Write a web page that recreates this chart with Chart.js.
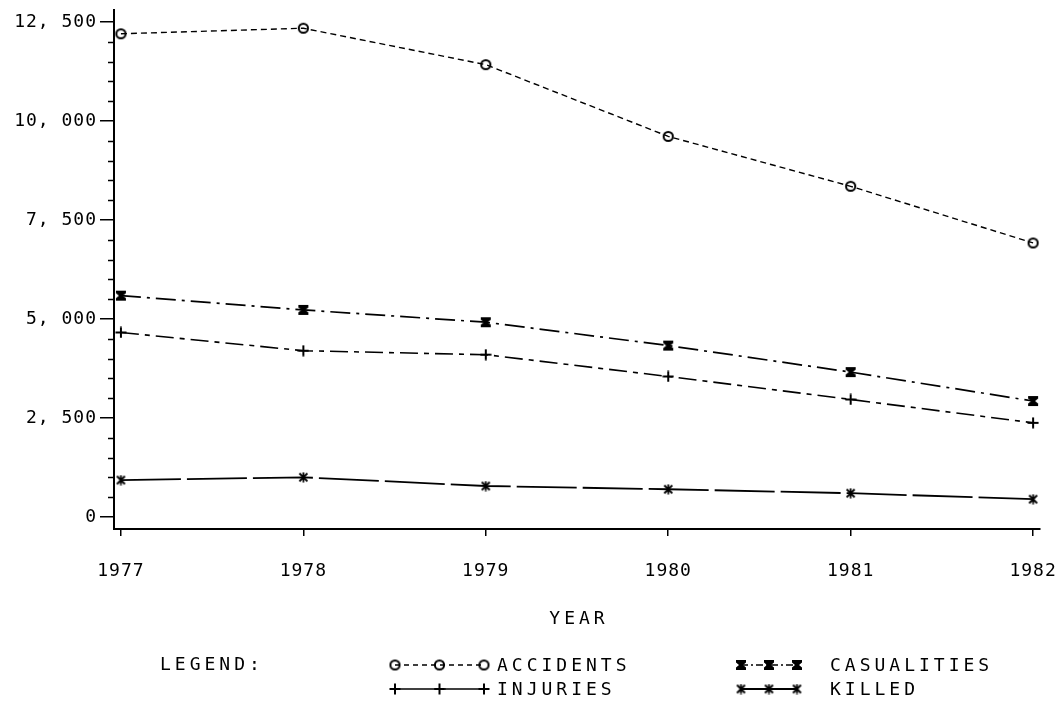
<!DOCTYPE html>
<html>
<head>
<meta charset="utf-8">
<script src="https://cdn.jsdelivr.net/npm/chart.js@4"></script>
<style>
  html, body { margin: 0; padding: 0; background: #fff; }
  #grafico-wrap { width: 1060px; height: 704px; }
</style>
</head>
<body>
<div id="grafico-wrap"><canvas id="grafico"></canvas></div>
<script>
// === DADOS DO GRAFICO ===
const anos = [1977, 1978, 1979, 1980, 1981, 1982];
const acidentes = [12200, 12340, 11420, 9610, 8350, 6920];
const vitimas = [5590, 5230, 4920, 4330, 3660, 2930];
const feridos = [4660, 4200, 4100, 3550, 2970, 2380];
const mortos = [935, 1005, 785, 703, 603, 452];

const ticksY = [0, 2500, 5000, 7500, 10000, 12500];
const ticksYMenores = [500, 1000, 1500, 2000, 3000, 3500, 4000, 4500, 5500, 6000, 6500, 7000,
    8000, 8500, 9000, 9500, 10500, 11000, 11500, 12000];
const nomesSeries = ['ACCIDENTS', 'CASUALITIES', 'INJURIES', 'KILLED'];
const tituloX = 'YEAR';
const tituloLegenda = 'LEGEND:';

const FONTE = '"DejaVu Sans Mono", monospace';

// --- Marcadores desenhados a mao (estilo plotter) ---
function novoCanvas(w, h) {
    const c = document.createElement('canvas');
    c.width = w; c.height = h;
    return c;
}

function marcadorCirculo() {
    const c = novoCanvas(13, 13);
    const ctx = c.getContext('2d');
    ctx.strokeStyle = '#000';
    ctx.lineWidth = 2;
    ctx.beginPath();
    ctx.arc(6.5, 6.5, 4.6, 0, Math.PI * 2);
    ctx.stroke();
    return c;
}

function marcadorAmpulheta() {
    const c = novoCanvas(12, 12);
    const ctx = c.getContext('2d');
    ctx.fillStyle = '#000';
    ctx.beginPath();
    ctx.moveTo(1, 1); ctx.lineTo(11, 1); ctx.lineTo(11, 3.5); ctx.lineTo(8, 6);
    ctx.lineTo(11, 8.5); ctx.lineTo(11, 11); ctx.lineTo(1, 11); ctx.lineTo(1, 8.5);
    ctx.lineTo(4, 6); ctx.lineTo(1, 3.5);
    ctx.closePath();
    ctx.fill();
    return c;
}

function marcadorCruz() {
    const c = novoCanvas(12, 12);
    const ctx = c.getContext('2d');
    ctx.strokeStyle = '#000';
    ctx.lineWidth = 2;
    ctx.beginPath();
    ctx.moveTo(6, 0.5); ctx.lineTo(6, 11.5);
    ctx.moveTo(0.5, 6); ctx.lineTo(11.5, 6);
    ctx.stroke();
    return c;
}

function marcadorAsterisco() {
    const c = novoCanvas(11, 11);
    const ctx = c.getContext('2d');
    ctx.strokeStyle = '#000';
    ctx.lineWidth = 1.8;
    ctx.beginPath();
    ctx.moveTo(1.5, 1.5); ctx.lineTo(9.5, 9.5);
    ctx.moveTo(9.5, 1.5); ctx.lineTo(1.5, 9.5);
    ctx.moveTo(5.5, 0.5); ctx.lineTo(5.5, 10.5);
    ctx.stroke();
    return c;
}

const marcadores = [marcadorCirculo(), marcadorAmpulheta(), marcadorCruz(), marcadorAsterisco()];
const tracejados = [[6, 4], [20, 6, 3, 6], [18, 6, 5, 6], [60, 6]];
const tracejadosLegenda = [[5, 4], [7, 3, 2, 3], [], []];
const espessuras = [1.4, 1.7, 1.6, 1.8];
const valoresSeries = [acidentes, vitimas, feridos, mortos];

function formatarValor(v) {
    return v.toLocaleString('en-US').replace(',', ', ');
}

// === PLUGINS ===
const pluginEspacamento = {
    id: 'espacamento',
    beforeLayout(chart) { chart.ctx.letterSpacing = '1px'; },
    beforeDraw(chart) { chart.ctx.letterSpacing = '1px'; }
};

// tracinhos menores do eixo Y
const pluginTicksMenores = {
    id: 'ticksMenores',
    afterDraw(chart) {
        const ctx = chart.ctx;
        const y = chart.scales.y;
        const x0 = chart.chartArea.left;
        ctx.save();
        ctx.strokeStyle = '#000';
        ctx.lineWidth = 1.5;
        ctx.beginPath();
        ticksYMenores.forEach(v => {
            const py = Math.round(y.getPixelForValue(v)) + 0.5;
            ctx.moveTo(x0 - 6, py);
            ctx.lineTo(x0, py);
        });
        ctx.stroke();
        ctx.restore();
    }
};

// titulo do eixo X e legenda antiga
const pluginLegenda = {
    id: 'legendaAntiga',
    afterDraw(chart) {
        const ctx = chart.ctx;
        const escalaX = chart.scales.x;
        ctx.save();
        ctx.fillStyle = '#000';
        ctx.strokeStyle = '#000';
        ctx.font = '18px ' + FONTE;
        ctx.letterSpacing = '4px';
        ctx.textBaseline = 'middle';

        ctx.textAlign = 'center';
        ctx.fillText(tituloX, (escalaX.left + escalaX.right) / 2 + 2, 619);

        ctx.textAlign = 'left';
        ctx.fillText(tituloLegenda, 160, 665);

        const colunas = [{ a: 395, b: 484, t: 497 }, { a: 741, b: 797, t: 830 }];
        const linhas = [665, 689];
        nomesSeries.forEach((nome, i) => {
            const col = colunas[i % 2];
            const ly = linhas[Math.floor(i / 2)];
            ctx.lineWidth = espessuras[i];
            ctx.setLineDash(tracejadosLegenda[i]);
            ctx.beginPath();
            ctx.moveTo(col.a, ly);
            ctx.lineTo(col.b, ly);
            ctx.stroke();
            ctx.setLineDash([]);
            const img = marcadores[i];
            [col.a, (col.a + col.b) / 2, col.b].forEach(px => {
                ctx.drawImage(img, px - img.width / 2, ly - img.height / 2);
            });
            ctx.fillText(nome, col.t, ly + 1);
        });
        ctx.restore();
    }
};

// === MONTAGEM DO GRAFICO ===
function inicializarGrafico() {
    const datasets = valoresSeries.map((serie, i) => ({
        label: nomesSeries[i],
        data: anos.map((a, k) => ({ x: a, y: serie[k] })),
        borderColor: '#000',
        backgroundColor: '#000',
        borderWidth: espessuras[i],
        borderDash: tracejados[i],
        pointStyle: marcadores[i],
        pointRadius: 6,
        pointHoverRadius: 6,
        tension: 0,
        fill: false
    }));

    new Chart(document.getElementById('grafico'), {
        type: 'line',
        data: { datasets: datasets },
        plugins: [pluginEspacamento, pluginTicksMenores, pluginLegenda],
        options: {
            responsive: true,
            maintainAspectRatio: false,
            animation: false,
            layout: { padding: { left: 0, right: 20, top: 10, bottom: 0 } },
            plugins: { legend: { display: false }, tooltip: { enabled: false } },
            scales: {
                x: {
                    type: 'linear',
                    min: 1976.962,
                    max: 1982.038,
                    afterBuildTicks: (s) => { s.ticks = anos.map(v => ({ value: v })); },
                    afterFit: (s) => { s.height = 175; s.paddingLeft = 0; s.paddingRight = 0; },
                    border: { display: true, color: '#000', width: 2 },
                    grid: { drawOnChartArea: false, drawTicks: true, tickLength: 7, color: '#000', lineWidth: 1.5 },
                    ticks: {
                        color: '#000',
                        font: { family: FONTE, size: 18 },
                        padding: 25,
                        maxRotation: 0,
                        callback: (v) => String(v)
                    }
                },
                y: {
                    min: -300,
                    max: 12800,
                    afterBuildTicks: (s) => { s.ticks = ticksY.map(v => ({ value: v })); },
                    afterFit: (s) => { s.width = 114; s.paddingTop = 0; s.paddingBottom = 0; },
                    border: { display: true, color: '#000', width: 2 },
                    grid: { drawOnChartArea: false, drawTicks: true, tickLength: 14, color: '#000', lineWidth: 1.5 },
                    ticks: {
                        color: '#000',
                        font: { family: FONTE, size: 18 },
                        padding: 3,
                        callback: (v) => formatarValor(v)
                    }
                }
            }
        }
    });
}

document.addEventListener('DOMContentLoaded', inicializarGrafico);
</script>
</body>
</html>
